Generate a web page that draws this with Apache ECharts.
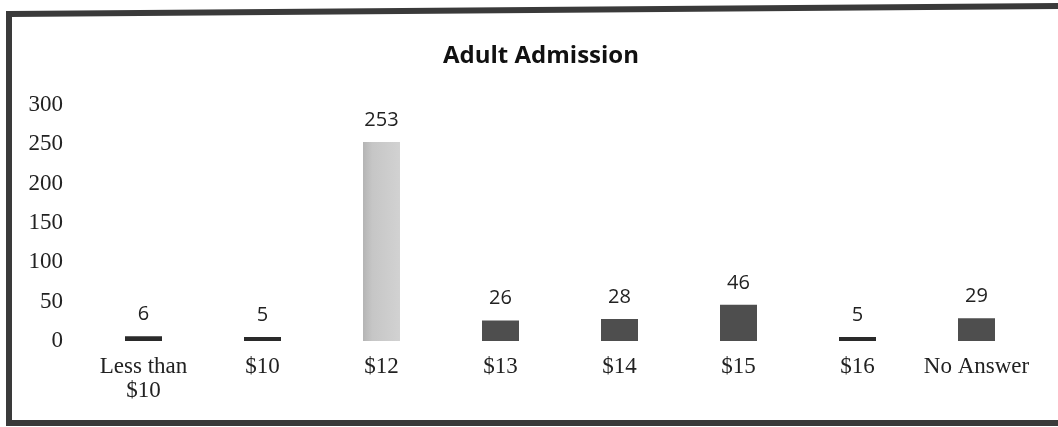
<!DOCTYPE html>
<html>
<head>
<meta charset="utf-8">
<script src="https://cdn.jsdelivr.net/npm/echarts@6/dist/echarts.min.js"></script>
<style>
  html, body { margin: 0; padding: 0; background: #fff; }
  #chart { width: 1058px; height: 427px; }
</style>
</head>
<body>
<div id="chart"></div>
<script>
// Survey responses: preferred adult admission price
const categories = ['Less than\n$10', '$10', '$12', '$13', '$14', '$15', '$16', 'No Answer'];
const responses = [6, 5, 253, 26, 28, 46, 5, 29];
const barColors = ['#2a2a2a', '#2a2a2a', 'light', '#4e4e4e', '#4e4e4e', '#4e4e4e', '#2a2a2a', '#4e4e4e'];

const chart = echarts.init(document.getElementById('chart'));

const serif = '"Liberation Serif", "DejaVu Serif", serif';
const sans = '"Open Sans", "Liberation Sans", sans-serif';

// the tall $12 bar is a pale grey, a little darker along its left edge
const paleFill = new echarts.graphic.LinearGradient(0, 0, 1, 0, [
  { offset: 0, color: '#b4b4b4' },
  { offset: 0.25, color: '#c6c6c6' },
  { offset: 1, color: '#d2d2d2' }
]);

chart.setOption({
  backgroundColor: '#ffffff',
  animation: false,
  title: {
    text: 'Adult Admission',
    left: 536,
    textAlign: 'center',
    top: 39,
    textStyle: { fontFamily: sans, fontWeight: 'bold', fontSize: 24, color: '#111' }
  },
  graphic: [{
    type: 'polygon',
    shape: { points: [[9, 14], [1064, 6], [1064, 423], [9, 423]] },
    style: { fill: 'none', stroke: '#3a3a3a', lineWidth: 6 },
    z: 100
  }],
  grid: { left: 84, right: 22, top: 105, bottom: 86 },
  xAxis: {
    type: 'category',
    data: categories,
    axisLine: { show: false },
    axisTick: { show: false },
    axisLabel: {
      interval: 0,
      margin: 14,
      fontFamily: serif,
      fontSize: 23,
      lineHeight: 24,
      color: '#222'
    }
  },
  yAxis: {
    type: 'value',
    min: 0,
    max: 300,
    interval: 50,
    axisLine: { show: false },
    axisTick: { show: false },
    splitLine: { show: false },
    axisLabel: { margin: 21, fontFamily: serif, fontSize: 23, color: '#222' }
  },
  series: [{
    type: 'bar',
    barWidth: 37,
    data: responses.map((v, i) => ({
      value: v,
      itemStyle: { color: barColors[i] === 'light' ? paleFill : barColors[i] }
    })),
    label: {
      show: true,
      position: 'top',
      distance: 12,
      fontFamily: sans,
      fontSize: 20,
      color: '#222'
    }
  }]
});
</script>
</body>
</html>
